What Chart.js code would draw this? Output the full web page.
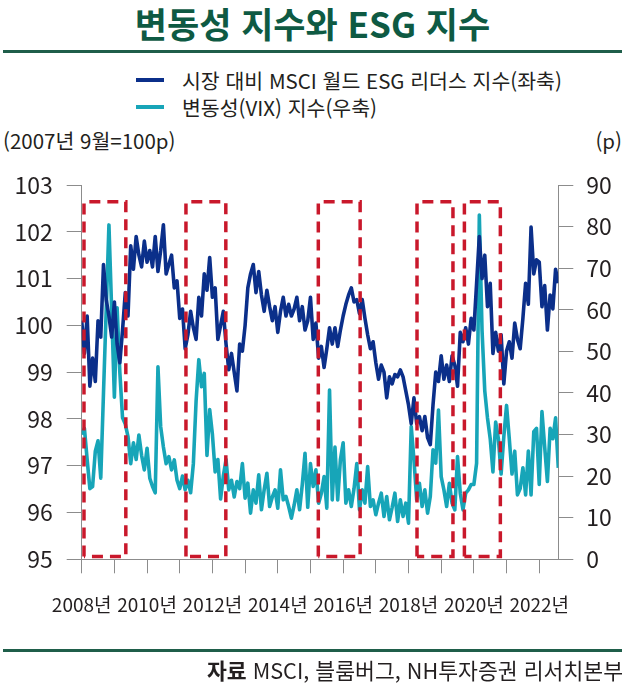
<!DOCTYPE html>
<html lang="ko">
<head>
<meta charset="utf-8">
<title>변동성 지수와 ESG 지수</title>
<script src="https://cdn.jsdelivr.net/npm/chart.js@4.4.1/dist/chart.umd.min.js"></script>
<style>
    body { margin: 0; background: #fff; }
    #wrap { position: relative; width: 625px; height: 700px; overflow: hidden;
            font-family: 'Noto Sans CJK KR', 'Liberation Sans Narrow', sans-serif; color: #231f20; }
    #chart { position: absolute; left: 0; top: 0; }
    .abs { position: absolute; white-space: nowrap; }
    .title { left: 0; width: 625px; top: 1px; text-align: center; font-size: 35px; line-height: 44px;
             font-weight: 700; color: #0e5a43; }
    .rule { left: 3px; width: 619px; height: 3px; background: #1f5e4a; }
    .legend { left: 182px; font-size: 20.5px; line-height: 26px; }
    .swatch { left: 136px; width: 28px; height: 4px; }
    .unit { font-size: 20.5px; line-height: 26px; top: 127px; }
    .source { right: 2px; top: 657px; font-size: 21.6px; line-height: 26px; }
</style>
</head>
<body>
<div id="wrap">
    <div class="abs title">변동성 지수와 ESG 지수</div>
    <div class="abs rule" style="top:50px"></div>

    <div class="abs swatch" style="top:78px; background:#0b2f8a"></div>
    <div class="abs legend" style="top:67px">시장 대비 MSCI 월드 ESG 리더스 지수(좌축)</div>
    <div class="abs swatch" style="top:105px; background:#17a5b8"></div>
    <div class="abs legend" style="top:94px">변동성(VIX) 지수(우축)</div>

    <div class="abs unit" style="left:3px">(2007년 9월=100p)</div>
    <div class="abs unit" style="right:3px">(p)</div>

    <canvas id="chart" width="625" height="700"></canvas>

    <div class="abs rule" style="top:649px"></div>
    <div class="abs source"><b>자료</b> MSCI, 블룸버그, NH투자증권 리서치본부</div>
</div>

<script>
// 2008년 1월부터 월별 데이터
const startYear = 2008;
const endYear = 2022 + 7 / 12;

// x축 눈금 (연도), 라벨은 짝수 해만
const xTickYears = [2008, 2009, 2010, 2011, 2012, 2013, 2014, 2015, 2016, 2017, 2018, 2019, 2020, 2021, 2022];

// 시장 대비 MSCI 월드 ESG 리더스 지수 (좌축, 2007년 9월=100)
const esgValues = [
    100.1, 99.4, 100.2, 98.7, 99.3, 98.8, 100.1, 99.75, 101.3, 100.55, 100.2, 99.75,
    100.5, 99.6, 99.2, 99.9, 100.7, 100.2, 101.7, 101.2, 101.9, 101.5, 101.25, 101.8,
    101.35, 101.6, 101.25, 101.9, 101.15, 101.6, 102.15, 101.1, 101.3, 101.5, 100.8, 100.95,
    100.15, 100.35, 99.5, 99.8, 100.3, 99.95, 99.7, 100.6, 100.2, 101.1, 100.75, 101.45,
    100.6, 100.8, 99.7, 100.0, 100.3, 99.6, 99.05, 99.4, 99.0, 98.6, 99.6, 99.45,
    100.0, 100.8, 101.1, 101.3, 100.7, 101.15, 100.65, 100.3, 100.75, 100.4, 100.1, 100.4,
    99.85, 100.3, 100.6, 100.2, 100.45, 100.2, 100.35, 100.6, 100.1, 100.4, 99.9, 100.1,
    100.6, 99.7, 100.05, 99.3, 99.55, 99.1, 99.5, 99.95, 99.6, 99.95, 99.55, 99.9,
    100.2, 100.45, 100.65, 100.8, 100.5, 100.55, 100.25, 100.55, 100.15, 99.8, 99.5, 99.65,
    99.2, 98.85, 99.15, 99.0, 98.45, 98.9, 98.75, 98.95, 98.9, 99.05, 98.9, 98.6,
    98.3, 97.9, 98.45, 97.9, 98.05, 97.75, 98.05, 97.6, 97.45, 98.3, 99.0, 98.8,
    99.35, 98.85, 99.15, 98.8, 99.35, 99.15, 98.7, 99.85, 99.65, 99.95, 99.6, 100.15,
    99.9, 100.9, 101.9, 101.0, 101.5, 100.4, 100.9, 99.4, 99.85, 99.45, 99.8, 98.75,
    99.45, 99.65, 99.3, 100.05, 99.7, 99.5, 100.15, 100.9, 100.45, 102.1, 101.1, 101.4,
    101.35, 100.4, 100.85, 99.9, 100.65, 100.35, 101.2, 100.9
];

// 변동성(VIX) 지수 (우축)
const vixValues = [
    30, 31.5, 24, 17, 17.5, 26, 28.5, 19.5, 40, 60, 80.4, 60,
    39, 60.5, 45, 34, 32.5, 29.5, 23, 28, 24, 29.9, 25, 21.5,
    26.7, 19.5, 17.5, 16, 46.3, 31.9, 27, 23, 24.7, 21.5, 23.9, 19,
    17, 20, 16.7, 19, 16, 23, 38, 48, 41.5, 44.7, 25, 36,
    30, 21, 24, 14.5, 20, 24, 16.7, 19, 15, 18.7, 17, 23,
    14.7, 18.3, 11.1, 16.7, 13.5, 20.3, 11.9, 16.7, 20.7, 12.7, 15, 16.7,
    12.3, 21.5, 14.3, 15.1, 12.7, 9.9, 13, 16.7, 11.9, 18, 25.5, 12.5,
    23, 17.5, 21.5, 13.5, 15.9, 19.9, 12.3, 40.7, 14.3, 27, 14.3, 24,
    28, 13.5, 16.7, 12.7, 17, 23, 11.9, 16.7, 13.5, 22.3, 12.7, 14.3,
    10.7, 13.5, 15.9, 10.3, 15.1, 9.5, 12.5, 15.9, 9.1, 14.3, 10.3, 13.5,
    8.7, 31.9, 23.9, 14.3, 18.3, 12.7, 16.7, 11.1, 15.1, 26.3, 23.1, 35.9,
    19.9, 16.7, 12.7, 18.3, 13.5, 11.9, 24.7, 15.9, 11.9, 15.9, 16.7, 18,
    18, 23.1, 82.8, 55, 40.5, 34, 29, 21, 33, 29, 20.5, 29.5,
    37, 29, 20.5, 26, 15.5, 17, 22, 15.5, 26, 15.5, 30.7, 31.5,
    18, 35.5, 27, 18.7, 31.5, 29, 34, 22
];

// 붉은 점선 박스 구간 (연도)
const boxStart = [2008.07, 2011.19, 2015.24, 2018.26, 2019.71];
const boxEnd = [2009.35, 2012.41, 2016.52, 2019.36, 2020.81];
const boxTop = 102.64;
const boxBottom = 95.06;

const leftRange = [95, 103];
const rightRange = [0, 90];

const toPoints = values => values.map((v, i) => ({ x: startYear + i / 12, y: v }));

const boxDatasets = boxStart.map((s, i) => ({
    label: 'box' + i,
    data: [
        { x: s, y: boxBottom }, { x: s, y: boxTop },
        { x: boxEnd[i], y: boxTop }, { x: boxEnd[i], y: boxBottom },
        { x: s, y: boxBottom }
    ],
    yAxisID: 'yL',
    borderColor: '#c9182b',
    borderWidth: 3.5,
    borderDash: [11, 7],
    pointRadius: 0,
    fill: false,
    tension: 0,
    order: 0
}));

const axisColor = '#8c8c8c';
const narrow = "'Liberation Sans Narrow', 'Noto Sans CJK KR', sans-serif";

new Chart(document.getElementById('chart'), {
    type: 'line',
    data: {
        datasets: [
            ...boxDatasets,
            {
                label: '시장 대비 MSCI 월드 ESG 리더스 지수(좌축)',
                data: toPoints(esgValues),
                yAxisID: 'yL',
                borderColor: '#0b2f8a',
                borderWidth: 3.6,
                borderJoinStyle: 'round',
                pointRadius: 0,
                tension: 0,
                order: 1
            },
            {
                label: '변동성(VIX) 지수(우축)',
                data: toPoints(vixValues),
                yAxisID: 'yR',
                borderColor: '#17a5b8',
                borderWidth: 3.6,
                borderJoinStyle: 'round',
                pointRadius: 0,
                tension: 0,
                order: 2
            }
        ]
    },
    options: {
        responsive: false,
        animation: false,
        events: [],
        layout: { padding: { top: 185, left: 0, right: 0, bottom: 0 } },
        plugins: { legend: { display: false }, tooltip: { enabled: false } },
        scales: {
            x: {
                type: 'linear',
                min: startYear,
                max: endYear,
                afterFit: scale => { scale.height = 140.7; },
                afterBuildTicks: scale => {
                    scale.ticks = xTickYears.map(y => ({ value: y }));
                },
                ticks: {
                    autoSkip: false,
                    maxRotation: 0,
                    padding: 20,
                    color: '#231f20',
                    font: { family: narrow, size: 19 },
                    callback: v => (v % 2 === 0 ? v + '년' : '')
                },
                grid: { drawOnChartArea: false, color: axisColor, tickLength: 14 },
                border: { color: axisColor }
            },
            yL: {
                position: 'left',
                min: leftRange[0],
                max: leftRange[1],
                afterFit: scale => { scale.width = 81.7; },
                ticks: {
                    stepSize: 1,
                    padding: 14,
                    color: '#231f20',
                    font: { family: narrow, size: 23 }
                },
                grid: { drawOnChartArea: false, color: axisColor, tickLength: 15 },
                border: { color: axisColor }
            },
            yR: {
                position: 'right',
                min: rightRange[0],
                max: rightRange[1],
                afterFit: scale => { scale.width = 66.7; },
                ticks: {
                    stepSize: 10,
                    padding: 13,
                    color: '#231f20',
                    font: { family: narrow, size: 23 }
                },
                grid: { drawOnChartArea: false, color: axisColor, tickLength: 15 },
                border: { color: axisColor }
            }
        }
    }
});
</script>
</body>
</html>
